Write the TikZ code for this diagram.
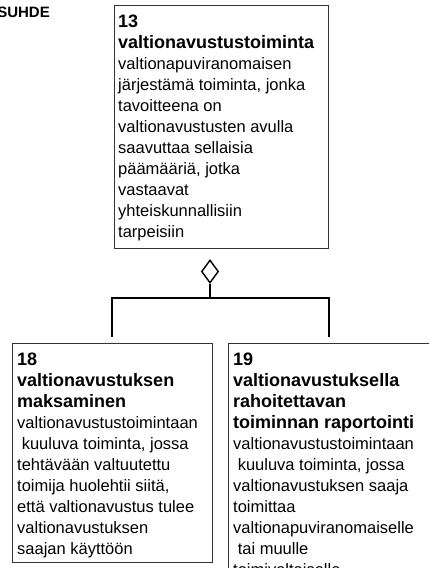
\documentclass[tikz,border=0pt]{standalone}
\usepackage{fontspec}
\setmainfont{Liberation Sans}
\usetikzlibrary{shapes.geometric}
\newcommand{\ttl}[1]{{\fontsize{18}{21}\selectfont\bfseries #1}}
\tikzset{
  box/.style={draw=black!80, line width=1.4pt, rectangle, inner sep=0pt, anchor=north west},
  txt/.style={anchor=north west, inner sep=0pt, align=left, font=\fontsize{16.5}{21}\selectfont},
  conn/.style={draw=black, line width=1.4pt},
}
\begin{document}
\begin{tikzpicture}[x=1pt,y=-1pt]
\useasboundingbox (0,0) rectangle (429,568);
\clip (0,0) rectangle (429,568);
\node[anchor=base east, inner sep=0pt, font=\fontsize{15}{18}\selectfont\bfseries] (lbl) at (50,17) {SUHDE};
% top box
\node[box, minimum width=214pt, minimum height=243pt] (top) at (114,5) {};
\node[txt] (t13) at (118,15.1) {\ttl{13}\\\ttl{valtionavustustoiminta}\\valtionapuviranomaisen\\järjestämä toiminta, jonka\\tavoitteena on\\valtionavustusten avulla\\saavuttaa sellaisia\\päämääriä, jotka\\vastaavat\\yhteiskunnallisiin\\tarpeisiin};
% diamond
\node[draw=black, line width=1.4pt, diamond, minimum width=17pt, minimum height=23pt, inner sep=0pt, shape aspect=0.74] (agg) at (210,271.5) {};
% left box
\node[box, minimum width=200pt, minimum height=219pt] (b18) at (12,343) {};
\node[txt] (t18) at (17,353.1) {\ttl{18}\\\ttl{valtionavustuksen}\\\ttl{maksaminen}\\valtionavustustoimintaan\\\ kuuluva toiminta, jossa\\tehtävään valtuutettu\\toimija huolehtii siitä,\\että valtionavustus tulee\\valtionavustuksen\\saajan käyttöön};
% right box
\node[box, minimum width=202pt, minimum height=260pt] (b19) at (228,343) {};
\node[txt] (t19) at (233,353.1) {\ttl{19}\\\ttl{valtionavustuksella}\\\ttl{rahoitettavan}\\\ttl{toiminnan raportointi}\\valtionavustustoimintaan\\\ kuuluva toiminta, jossa\\valtionavustuksen saaja\\toimittaa\\valtionapuviranomaiselle\\\ tai muulle\\toimivaltaiselle};
% connectors
\coordinate (j) at (210,298);
\coordinate (e1) at (112,337);
\coordinate (e2) at (329,337);
\draw[conn] (agg.south) -- (j);
\draw[conn] (j) -| (e1);
\draw[conn] (j) -| (e2);
\end{tikzpicture}
\end{document}
